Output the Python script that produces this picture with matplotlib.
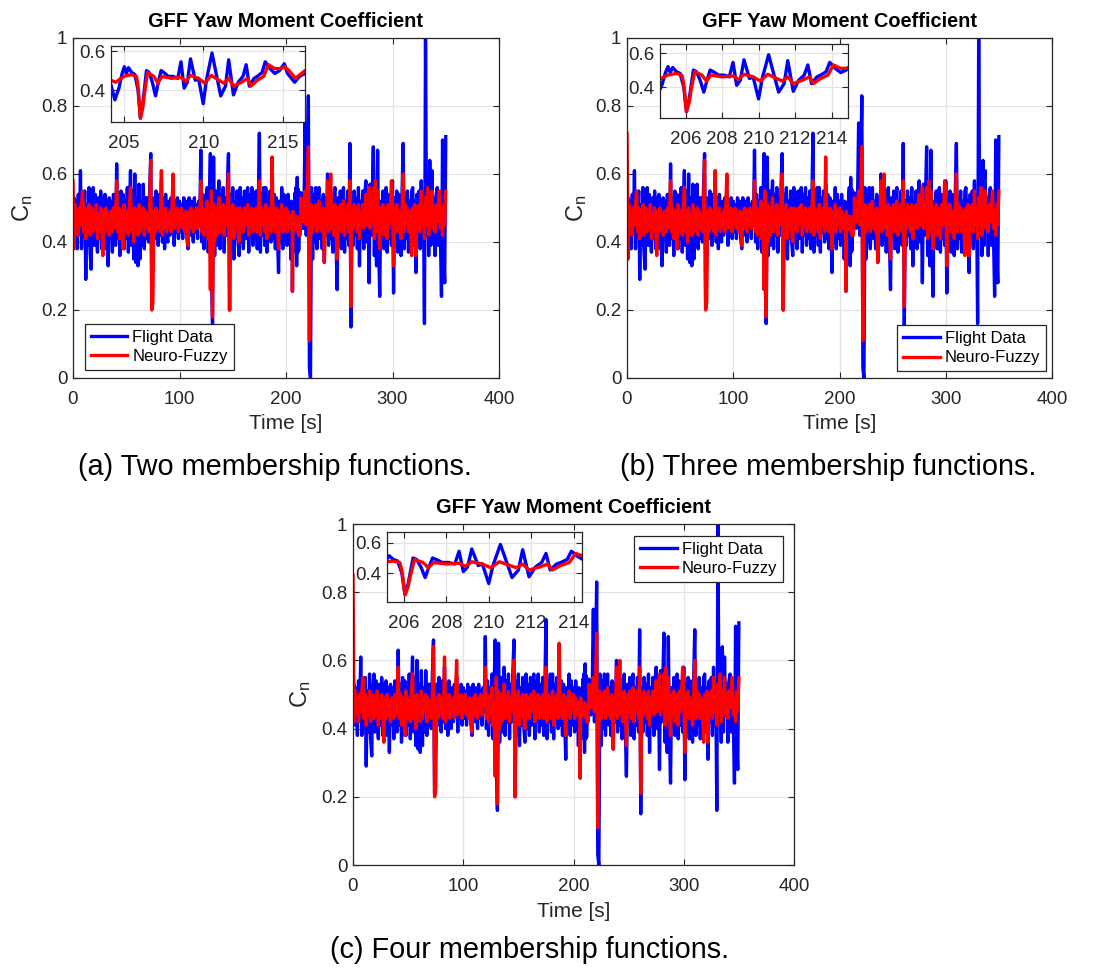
import matplotlib
matplotlib.use('Agg')
import matplotlib.pyplot as plt
import numpy as np

plt.rcParams['font.family'] = ['Liberation Sans', 'DejaVu Sans']
plt.rcParams['mathtext.fontset'] = 'custom'
plt.rcParams['mathtext.rm'] = 'Liberation Sans'
plt.rcParams['mathtext.it'] = 'Liberation Sans'

# ---- flight data, 1 s samples, t = 0..203 and t = 217..350 ----
fd_head = [
    0.47, 0.53, 0.41, 0.52, 0.38, 0.54, 0.43, 0.61, 0.38, 0.53,
    0.42, 0.55, 0.29, 0.51, 0.39, 0.56, 0.37, 0.32, 0.52, 0.56,
    0.39, 0.54, 0.43, 0.37, 0.53, 0.41, 0.55, 0.38, 0.53, 0.40,
    0.54, 0.38, 0.52, 0.33, 0.53, 0.41, 0.52, 0.37, 0.54, 0.43,
    0.39, 0.63, 0.41, 0.53, 0.36, 0.55, 0.42, 0.54, 0.38, 0.52,
    0.41, 0.56, 0.37, 0.50, 0.61, 0.39, 0.55, 0.35, 0.60, 0.34,
    0.53, 0.33, 0.57, 0.35, 0.52, 0.39, 0.57, 0.38, 0.53, 0.41,
    0.53, 0.40, 0.56, 0.66, 0.21, 0.37, 0.53, 0.41, 0.55, 0.43,
    0.39, 0.54, 0.42, 0.58, 0.40, 0.53, 0.38, 0.54, 0.43, 0.40,
    0.52, 0.42, 0.53, 0.44, 0.55, 0.39, 0.52, 0.43, 0.53, 0.41,
    0.52, 0.43, 0.51, 0.41, 0.53, 0.44, 0.52, 0.41, 0.38, 0.53,
    0.42, 0.52, 0.44, 0.40, 0.53, 0.43, 0.51, 0.41, 0.52, 0.45,
    0.67, 0.40, 0.54, 0.38, 0.52, 0.42, 0.56, 0.37, 0.53, 0.66,
    0.30, 0.16, 0.65, 0.36, 0.55, 0.39, 0.52, 0.58, 0.38, 0.54,
    0.42, 0.56, 0.37, 0.53, 0.42, 0.57, 0.66, 0.20, 0.54, 0.38,
    0.56, 0.35, 0.52, 0.41, 0.55, 0.40, 0.36, 0.56, 0.40, 0.53,
    0.38, 0.55, 0.41, 0.52, 0.56, 0.37, 0.54, 0.42, 0.56, 0.39,
    0.53, 0.41, 0.55, 0.38, 0.52, 0.72, 0.37, 0.54, 0.42, 0.56,
    0.39, 0.56, 0.37, 0.53, 0.43, 0.55, 0.40, 0.57, 0.41, 0.54,
    0.38, 0.53, 0.42, 0.31, 0.52, 0.40, 0.56, 0.38, 0.54, 0.41,
    0.52, 0.39, 0.54, 0.44,
]
fd_tail = [
    0.53, 0.75, 0.42,
    0.60, 0.83, 0.03, 0.00, 0.56, 0.35, 0.54, 0.40, 0.56, 0.38,
    0.53, 0.56, 0.41, 0.52, 0.38, 0.54, 0.34, 0.53, 0.42, 0.60,
    0.39, 0.55, 0.41, 0.53, 0.37, 0.54, 0.56, 0.40, 0.26, 0.53,
    0.42, 0.55, 0.38, 0.53, 0.56, 0.37, 0.52, 0.41, 0.55, 0.39,
    0.69, 0.15, 0.52, 0.39, 0.55, 0.42, 0.53, 0.38, 0.56, 0.33,
    0.52, 0.41, 0.55, 0.38, 0.54, 0.58, 0.40, 0.52, 0.28, 0.57,
    0.42, 0.54, 0.68, 0.36, 0.56, 0.33, 0.67, 0.39, 0.24, 0.52,
    0.41, 0.55, 0.38, 0.53, 0.56, 0.37, 0.54, 0.41, 0.52, 0.39,
    0.58, 0.25, 0.53, 0.41, 0.55, 0.37, 0.54, 0.42, 0.36, 0.55,
    0.69, 0.38, 0.53, 0.41, 0.55, 0.37, 0.52, 0.42, 0.55, 0.56,
    0.39, 0.52, 0.31, 0.54, 0.42, 0.55, 0.38, 0.58, 0.41, 0.52,
    0.16, 1.00, 0.42, 0.56, 0.36, 0.64, 0.39, 0.61, 0.44, 0.53,
    0.36, 0.54, 0.56, 0.39, 0.52, 0.41, 0.24, 0.70, 0.37, 0.28,
    0.71,
]
# finer samples around the zoomed window 204-217 s
t_fd_zoom = [204.2, 204.44, 204.7, 204.9, 205.04, 205.16, 205.3, 205.5, 205.7, 205.9,
             206.05, 206.2, 206.43, 206.6, 206.8, 207.0, 207.15, 207.35, 207.6, 207.8,
             208.1, 208.4, 208.6, 208.8, 209.0, 209.2, 209.5, 209.7, 210.0, 210.2,
             210.55, 210.8, 211.1, 211.4, 211.6, 211.9, 212.2, 212.5, 212.7, 212.9,
             213.2, 213.4, 213.7, 213.9, 214.2, 214.5, 214.8, 215.1, 215.3, 215.75,
             216.05, 216.4]
fd_zoom = [0.426, 0.35, 0.41, 0.485, 0.52, 0.485, 0.515, 0.49, 0.48, 0.40,
           0.255, 0.33, 0.50, 0.49, 0.44, 0.37, 0.43, 0.50, 0.485, 0.47,
           0.47, 0.46, 0.545, 0.41, 0.44, 0.56, 0.45, 0.46, 0.33, 0.45,
           0.59, 0.49, 0.37, 0.42, 0.555, 0.375, 0.44, 0.47, 0.53, 0.42,
           0.46, 0.47, 0.49, 0.545, 0.51, 0.485, 0.50, 0.535, 0.485, 0.44,
           0.47, 0.485]

# ---- neuro-fuzzy output, 1 s samples, t = 2..203 and t = 217..350 ----
nf_head = [
    0.51, 0.44, 0.49, 0.42, 0.50, 0.45, 0.51, 0.55,
    0.43, 0.50, 0.41, 0.49, 0.44, 0.51, 0.42, 0.48, 0.50, 0.43,
    0.49, 0.44, 0.51, 0.41, 0.48, 0.43, 0.50, 0.45, 0.36, 0.49,
    0.43, 0.50, 0.44, 0.48, 0.42, 0.49, 0.45, 0.43, 0.50, 0.44,
    0.48, 0.58, 0.43, 0.50, 0.41, 0.49, 0.44, 0.38, 0.51, 0.43,
    0.49, 0.45, 0.42, 0.51, 0.56, 0.43, 0.49, 0.40, 0.50, 0.44,
    0.48, 0.42, 0.51, 0.43, 0.49, 0.45, 0.50, 0.42, 0.49, 0.44,
    0.48, 0.43, 0.50, 0.64, 0.20, 0.22, 0.49, 0.43, 0.50, 0.45,
    0.44, 0.49, 0.43, 0.61, 0.42, 0.49, 0.44, 0.50, 0.43, 0.48,
    0.45, 0.49, 0.43, 0.51, 0.60, 0.44, 0.49, 0.45, 0.50, 0.43,
    0.49, 0.45, 0.50, 0.44, 0.48, 0.43, 0.49, 0.45, 0.39, 0.49,
    0.44, 0.50, 0.45, 0.43, 0.49, 0.45, 0.50, 0.44, 0.49, 0.46,
    0.58, 0.43, 0.50, 0.42, 0.49, 0.44, 0.52, 0.41, 0.48, 0.26,
    0.55, 0.18, 0.51, 0.40, 0.50, 0.42, 0.49, 0.53, 0.43, 0.49,
    0.44, 0.51, 0.42, 0.49, 0.45, 0.52, 0.60, 0.20, 0.50, 0.43,
    0.51, 0.41, 0.49, 0.44, 0.50, 0.43, 0.40, 0.50, 0.44, 0.49,
    0.43, 0.50, 0.45, 0.48, 0.51, 0.42, 0.49, 0.45, 0.50, 0.43,
    0.49, 0.44, 0.50, 0.43, 0.48, 0.58, 0.42, 0.50, 0.45, 0.49,
    0.43, 0.51, 0.41, 0.49, 0.45, 0.50, 0.43, 0.65, 0.44, 0.49,
    0.43, 0.50, 0.45, 0.38, 0.49, 0.44, 0.51, 0.43, 0.49, 0.45,
    0.50, 0.43, 0.49, 0.47,
]
nf_tail = [
    0.50, 0.55, 0.45,
    0.53, 0.68, 0.11, 0.40, 0.51, 0.43, 0.50, 0.45, 0.51, 0.43,
    0.49, 0.52, 0.44, 0.49, 0.43, 0.50, 0.34, 0.49, 0.44, 0.58,
    0.43, 0.50, 0.60, 0.44, 0.48, 0.42, 0.51, 0.45, 0.35, 0.50,
    0.45, 0.51, 0.43, 0.49, 0.52, 0.42, 0.49, 0.45, 0.51, 0.43,
    0.58, 0.21, 0.49, 0.44, 0.51, 0.45, 0.50, 0.43, 0.51, 0.41,
    0.49, 0.45, 0.51, 0.44, 0.49, 0.54, 0.45, 0.50, 0.56, 0.44,
    0.51, 0.46, 0.56, 0.41, 0.58, 0.43, 0.55, 0.45, 0.38, 0.50,
    0.44, 0.51, 0.42, 0.50, 0.45, 0.41, 0.51, 0.45, 0.50, 0.58,
    0.53, 0.33, 0.50, 0.44, 0.51, 0.43, 0.49, 0.45, 0.41, 0.50,
    0.60, 0.43, 0.51, 0.45, 0.50, 0.43, 0.49, 0.45, 0.36, 0.50,
    0.44, 0.51, 0.36, 0.50, 0.45, 0.51, 0.43, 0.55, 0.45, 0.50,
    0.41, 0.53, 0.45, 0.56, 0.42, 0.51, 0.45, 0.55, 0.44, 0.50,
    0.43, 0.51, 0.46, 0.50, 0.55, 0.44, 0.49, 0.42, 0.51, 0.45,
    0.55,
]
t_nf_zoom = [204.2, 204.5, 205.0, 205.5, 205.8, 205.9, 206.05, 206.2, 206.3, 206.5,
             206.9, 207.15, 207.4, 208.0, 208.6, 208.9, 209.2, 209.7, 210.1, 210.5,
             211.0, 211.3, 211.6, 211.9, 212.4, 212.8, 213.0, 213.4, 213.8, 214.1,
             214.5, 214.9, 215.1, 215.4, 215.8, 216.4]
nf_zoom = [0.45, 0.44, 0.47, 0.48, 0.47, 0.42, 0.255, 0.31, 0.38, 0.49,
           0.47, 0.435, 0.47, 0.46, 0.465, 0.445, 0.475, 0.46, 0.435, 0.475,
           0.45, 0.435, 0.46, 0.42, 0.44, 0.46, 0.42, 0.45, 0.47, 0.53,
           0.51, 0.51, 0.52, 0.50, 0.46, 0.50]
# first two seconds differ between the three models
nf_start_a = [0.58, 0.38]
nf_start_b = [0.72, 0.35]
nf_start_c = [0.85, 0.42]

t_fd = np.concatenate([np.arange(0, 204), t_fd_zoom, np.arange(217, 351)])
fd = np.concatenate([fd_head, fd_zoom, fd_tail])
t_nf = np.concatenate([np.arange(0, 204), t_nf_zoom, np.arange(217, 351)])

W, H = 1099, 972
dark = '#262626'


def px(l, t, r, b):
    return [l / W, 1 - b / H, (r - l) / W, (b - t) / H]


def style(ax):
    ax.grid(True, color='#e3e3e3', linewidth=0.9)
    ax.set_axisbelow(True)
    ax.tick_params(direction='in', length=4, width=0.8, colors=dark,
                   labelsize=13.5, top=True, right=True)
    ax.tick_params(axis='x', pad=9.5)
    ax.tick_params(axis='y', pad=4)
    for s in ax.spines.values():
        s.set_color(dark)
        s.set_linewidth(0.9)


def panel(fig, rect, irect, nf_start, ixlim, iylim, ixticks, leg, caption, cap_xy, xl_y):
    nf = np.concatenate([nf_start, nf_head, nf_zoom, nf_tail])
    ax = fig.add_axes(px(*rect))
    ax.plot(t_fd, fd, color='#0000ff', lw=2.4, label='Flight Data')
    ax.plot(t_nf, nf, color='#ff0000', lw=2.4, label='Neuro-Fuzzy')
    ax.set_xlim(0, 400)
    ax.set_ylim(0, 1)
    ax.set_xticks([0, 100, 200, 300, 400])
    ax.set_yticks([0, 0.2, 0.4, 0.6, 0.8, 1])
    ax.set_yticklabels(['0', '0.2', '0.4', '0.6', '0.8', '1'])
    style(ax)
    ax.set_title('GFF Yaw Moment Coefficient', fontsize=14.4, fontweight='bold',
                 color='black', pad=8)
    ax.set_xlabel('Time [s]', fontsize=15, color=dark)
    ax.xaxis.set_label_coords(0.5, xl_y)
    ax.set_ylabel(r'$\mathrm{C_n}$', fontsize=17, color=dark)
    ax.yaxis.set_label_coords(-0.09, 0.5)
    lg = ax.legend(loc=leg[0], bbox_to_anchor=leg[1], borderaxespad=0,
                   fontsize=12, fancybox=False, framealpha=1, edgecolor=dark,
                   handlelength=2.2, handletextpad=0.3, borderpad=0.35,
                   labelspacing=0.25)
    lg.get_frame().set_linewidth(0.9)
    for txt in lg.get_texts():
        txt.set_color('black')

    ins = fig.add_axes(px(*irect))
    ins.plot(t_fd, fd, color='#0000ff', lw=2.4)
    ins.plot(t_nf, nf, color='#ff0000', lw=2.4)
    ins.set_xlim(*ixlim)
    ins.set_ylim(*iylim)
    ins.set_xticks(ixticks)
    ins.set_yticks([0.4, 0.6])
    ins.set_yticklabels(['0.4', '0.6'])
    style(ins)

    fig.text(cap_xy[0] / W, 1 - cap_xy[1] / H, caption, fontsize=20.8,
             ha='center', va='center', color='black')


fig = plt.figure(figsize=(W / 100, H / 100), dpi=100)

panel(fig, (73, 38, 499, 378), (111, 46, 305, 122), nf_start_a,
      (204.2, 216.4), (0.236, 0.626), [205, 210, 215],
      ('lower left', (0.028, 0.0235)),
      '(a) Two membership functions.', (275, 467), -0.106)
panel(fig, (627, 38, 1052, 378), (660, 44, 848, 118), nf_start_b,
      (204.6, 214.9), (0.218, 0.653), [206, 208, 210, 212, 214],
      ('lower right', (0.986, 0.02)),
      '(b) Three membership functions.', (828, 467), -0.106)
panel(fig, (353, 524, 794, 865), (387, 532, 582, 602), nf_start_c,
      (205.2, 214.4), (0.207, 0.673), [206, 208, 210, 212, 214],
      ('upper right', (0.975, 0.965)),
      '(c) Four membership functions.', (530, 950), -0.108)

fig.savefig('out.png', dpi=100, facecolor='white')
